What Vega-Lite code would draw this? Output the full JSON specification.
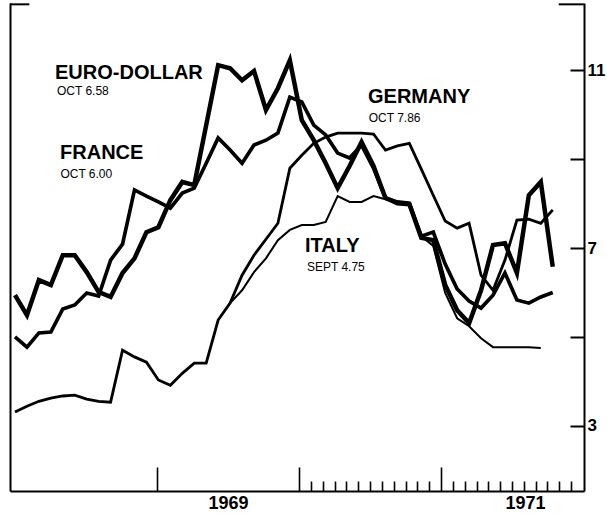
{
  "$schema": "https://vega.github.io/schema/vega-lite/v6.json",
  "width": 574,
  "height": 488,
  "autosize": {"type": "none"},
  "padding": {"left": 10, "top": 3, "right": 23, "bottom": 27},
  "background": "white",
  "config": {"view": {"stroke": null}, "font": "Liberation Sans"},
  "datasets": {
    "rates": [
      {"s":"Germany","m":0,"v":3.31},{"s":"Germany","m":1,"v":3.44},{"s":"Germany","m":2,"v":3.55},{"s":"Germany","m":3,"v":3.62},{"s":"Germany","m":4,"v":3.67},{"s":"Germany","m":5,"v":3.69},{"s":"Germany","m":6,"v":3.60},{"s":"Germany","m":7,"v":3.55},{"s":"Germany","m":8,"v":3.53},{"s":"Germany","m":9,"v":4.70},{"s":"Germany","m":10,"v":4.55},{"s":"Germany","m":11,"v":4.43},{"s":"Germany","m":12,"v":4.03},{"s":"Germany","m":13,"v":3.91},{"s":"Germany","m":14,"v":4.18},{"s":"Germany","m":15,"v":4.41},{"s":"Germany","m":16,"v":4.41},{"s":"Germany","m":17,"v":5.38},{"s":"Germany","m":18,"v":5.76},{"s":"Germany","m":19,"v":6.39},{"s":"Germany","m":20,"v":6.84},{"s":"Germany","m":21,"v":7.20},{"s":"Germany","m":22,"v":7.56},{"s":"Germany","m":23,"v":8.80},{"s":"Germany","m":24,"v":9.09},{"s":"Germany","m":25,"v":9.36},{"s":"Germany","m":26,"v":9.50},{"s":"Germany","m":27,"v":9.59},{"s":"Germany","m":28,"v":9.59},{"s":"Germany","m":29,"v":9.59},{"s":"Germany","m":30,"v":9.57},{"s":"Germany","m":31,"v":9.21},{"s":"Germany","m":32,"v":9.30},{"s":"Germany","m":33,"v":9.36},{"s":"Germany","m":34,"v":8.78},{"s":"Germany","m":35,"v":8.19},{"s":"Germany","m":36,"v":7.61},{"s":"Germany","m":37,"v":7.45},{"s":"Germany","m":38,"v":7.56},{"s":"Germany","m":39,"v":6.39},{"s":"Germany","m":40,"v":6.05},{"s":"Germany","m":41,"v":6.73},{"s":"Germany","m":42,"v":7.63},{"s":"Germany","m":43,"v":7.65},{"s":"Germany","m":44,"v":7.56},{"s":"Germany","m":45,"v":7.86},
      {"s":"Italy","m":18,"v":5.76},{"s":"Italy","m":19,"v":6.05},{"s":"Italy","m":20,"v":6.46},{"s":"Italy","m":21,"v":6.77},{"s":"Italy","m":22,"v":7.18},{"s":"Italy","m":23,"v":7.41},{"s":"Italy","m":24,"v":7.52},{"s":"Italy","m":25,"v":7.52},{"s":"Italy","m":26,"v":7.59},{"s":"Italy","m":27,"v":8.17},{"s":"Italy","m":28,"v":8.04},{"s":"Italy","m":29,"v":8.04},{"s":"Italy","m":30,"v":8.17},{"s":"Italy","m":31,"v":8.10},{"s":"Italy","m":32,"v":8.01},{"s":"Italy","m":33,"v":7.99},{"s":"Italy","m":34,"v":7.27},{"s":"Italy","m":35,"v":7.05},{"s":"Italy","m":36,"v":5.99},{"s":"Italy","m":37,"v":5.42},{"s":"Italy","m":38,"v":5.24},{"s":"Italy","m":39,"v":4.97},{"s":"Italy","m":40,"v":4.77},{"s":"Italy","m":41,"v":4.77},{"s":"Italy","m":42,"v":4.77},{"s":"Italy","m":43,"v":4.77},{"s":"Italy","m":44,"v":4.75},
      {"s":"France","m":0,"v":5.00},{"s":"France","m":1,"v":4.77},{"s":"France","m":2,"v":5.09},{"s":"France","m":3,"v":5.11},{"s":"France","m":4,"v":5.63},{"s":"France","m":5,"v":5.72},{"s":"France","m":6,"v":5.99},{"s":"France","m":7,"v":5.92},{"s":"France","m":8,"v":6.73},{"s":"France","m":9,"v":7.09},{"s":"France","m":10,"v":8.31},{"s":"France","m":11,"v":8.17},{"s":"France","m":12,"v":8.04},{"s":"France","m":13,"v":7.90},{"s":"France","m":14,"v":8.24},{"s":"France","m":15,"v":8.35},{"s":"France","m":16,"v":8.91},{"s":"France","m":17,"v":9.48},{"s":"France","m":18,"v":9.21},{"s":"France","m":19,"v":8.91},{"s":"France","m":20,"v":9.32},{"s":"France","m":21,"v":9.43},{"s":"France","m":22,"v":9.59},{"s":"France","m":23,"v":10.40},{"s":"France","m":24,"v":10.29},{"s":"France","m":25,"v":9.77},{"s":"France","m":26,"v":9.55},{"s":"France","m":27,"v":9.14},{"s":"France","m":28,"v":9.03},{"s":"France","m":29,"v":9.32},{"s":"France","m":30,"v":8.80},{"s":"France","m":31,"v":8.13},{"s":"France","m":32,"v":8.04},{"s":"France","m":33,"v":8.01},{"s":"France","m":34,"v":7.27},{"s":"France","m":35,"v":7.36},{"s":"France","m":36,"v":6.64},{"s":"France","m":37,"v":6.08},{"s":"France","m":38,"v":5.81},{"s":"France","m":39,"v":5.65},{"s":"France","m":40,"v":5.94},{"s":"France","m":41,"v":6.44},{"s":"France","m":42,"v":5.83},{"s":"France","m":43,"v":5.76},{"s":"France","m":44,"v":5.90},{"s":"France","m":45,"v":6.00},
      {"s":"Euro-dollar","m":0,"v":5.94},{"s":"Euro-dollar","m":1,"v":5.49},{"s":"Euro-dollar","m":2,"v":6.28},{"s":"Euro-dollar","m":3,"v":6.17},{"s":"Euro-dollar","m":4,"v":6.84},{"s":"Euro-dollar","m":5,"v":6.84},{"s":"Euro-dollar","m":6,"v":6.46},{"s":"Euro-dollar","m":7,"v":6.01},{"s":"Euro-dollar","m":8,"v":5.90},{"s":"Euro-dollar","m":9,"v":6.44},{"s":"Euro-dollar","m":10,"v":6.77},{"s":"Euro-dollar","m":11,"v":7.36},{"s":"Euro-dollar","m":12,"v":7.47},{"s":"Euro-dollar","m":13,"v":8.08},{"s":"Euro-dollar","m":14,"v":8.49},{"s":"Euro-dollar","m":15,"v":8.42},{"s":"Euro-dollar","m":16,"v":9.77},{"s":"Euro-dollar","m":17,"v":11.12},{"s":"Euro-dollar","m":18,"v":11.05},{"s":"Euro-dollar","m":19,"v":10.78},{"s":"Euro-dollar","m":20,"v":10.99},{"s":"Euro-dollar","m":21,"v":10.11},{"s":"Euro-dollar","m":22,"v":10.60},{"s":"Euro-dollar","m":23,"v":11.23},{"s":"Euro-dollar","m":24,"v":9.88},{"s":"Euro-dollar","m":25,"v":9.43},{"s":"Euro-dollar","m":26,"v":8.91},{"s":"Euro-dollar","m":27,"v":8.35},{"s":"Euro-dollar","m":28,"v":8.85},{"s":"Euro-dollar","m":29,"v":9.39},{"s":"Euro-dollar","m":30,"v":8.85},{"s":"Euro-dollar","m":31,"v":8.13},{"s":"Euro-dollar","m":32,"v":8.01},{"s":"Euro-dollar","m":33,"v":7.99},{"s":"Euro-dollar","m":34,"v":7.23},{"s":"Euro-dollar","m":35,"v":7.18},{"s":"Euro-dollar","m":36,"v":6.17},{"s":"Euro-dollar","m":37,"v":5.60},{"s":"Euro-dollar","m":38,"v":5.31},{"s":"Euro-dollar","m":39,"v":6.05},{"s":"Euro-dollar","m":40,"v":7.07},{"s":"Euro-dollar","m":41,"v":7.11},{"s":"Euro-dollar","m":42,"v":6.44},{"s":"Euro-dollar","m":43,"v":8.19},{"s":"Euro-dollar","m":44,"v":8.49},{"s":"Euro-dollar","m":45,"v":6.58}
    ],
    "titles": [
      {"x":3.35,"y":10.94,"text":"EURO-DOLLAR"},
      {"x":29.54,"y":10.40,"text":"GERMANY"},
      {"x":3.77,"y":9.14,"text":"FRANCE"},
      {"x":24.27,"y":7.05,"text":"ITALY"}
    ],
    "subs": [
      {"x":3.51,"y":10.54,"text":"OCT  6.58"},
      {"x":29.6,"y":9.93,"text":"OCT  7.86"},
      {"x":3.8,"y":8.67,"text":"OCT  6.00"},
      {"x":24.43,"y":6.57,"text":"SEPT  4.75"}
    ],
    "frame": [
      {"x0":-0.42,"x1":1.2,"y":12.49},
      {"x0":45.5,"x1":47.6,"y":12.49}
    ]
  },
  "resolve": {"axis": {"x": "independent", "y": "independent"}},
  "layer": [
    {
      "data": {"name": "rates"},
      "mark": {"type": "line", "color": "black", "strokeJoin": "miter", "strokeCap": "butt"},
      "encoding": {
        "x": {
          "field": "m", "type": "quantitative",
          "scale": {"domain": [-0.418, 47.615], "nice": false, "zero": false},
          "axis": {
            "orient": "bottom", "title": null, "grid": false,
            "values": [11.88, 17.82, 23.77, 24.76, 25.75, 26.74, 27.73, 28.72, 29.71, 30.70, 31.69, 32.68, 33.67, 34.66, 35.65, 36.64, 37.63, 38.62, 39.61, 40.60, 41.59, 42.58, 42.68, 43.57, 44.56, 45.55, 46.54],
            "tickSize": {"condition": [{"test": "datum.value == 17.82 || datum.value == 42.68", "value": 0}, {"test": "datum.value == 11.88 || datum.value == 23.77 || datum.value == 35.65", "value": -24}], "value": -10},
            "tickWidth": 1.6, "tickColor": "black",
            "domainColor": "black", "domainWidth": 2,
            "labelExpr": "datum.value == 17.82 ? '1969' : (datum.value == 42.68 ? '1971' : '')",
            "labelFont": "Liberation Sans", "labelFontWeight": "bold", "labelFontSize": 18, "labelColor": "black",
            "labelPadding": 3, "labelAngle": 0, "labelOverlap": false, "labelBound": false, "labelFlush": false
          }
        },
        "y": {
          "field": "v", "type": "quantitative",
          "scale": {"domain": [1.53, 12.52], "nice": false, "zero": false},
          "axis": {
            "orient": "right", "title": null, "grid": false,
            "values": [3, 5, 7, 9, 11],
            "tickSize": -14, "tickWidth": 2, "tickColor": "black",
            "domainColor": "black", "domainWidth": 2,
            "labelExpr": "datum.value == 3 || datum.value == 7 || datum.value == 11 ? datum.label : ''",
            "labelFont": "Liberation Sans", "labelFontWeight": "bold", "labelFontSize": 17, "labelColor": "black",
            "labelPadding": 17, "labelOverlap": false, "labelBound": false, "labelFlush": false
          }
        },
        "detail": {"field": "s", "type": "nominal"},
        "strokeWidth": {"field": "s", "type": "nominal", "scale": {"domain": ["Euro-dollar", "France", "Germany", "Italy"], "range": [4.5, 2, 1.3, 1.3]}, "legend": null}
      }
    },
    {
      "data": {"name": "frame"},
      "mark": {"type": "rule", "color": "black", "strokeWidth": 2},
      "encoding": {
        "x": {"field": "x0", "type": "quantitative", "scale": {"domain": [-0.418, 47.615], "nice": false, "zero": false}, "axis": null},
        "x2": {"field": "x1"},
        "y": {"field": "y", "type": "quantitative", "scale": {"domain": [1.53, 12.52], "nice": false, "zero": false},
          "axis": {"orient": "left", "title": null, "grid": false, "ticks": false, "labels": false, "domain": true, "domainColor": "black", "domainWidth": 2}}
      }
    },
    {
      "data": {"name": "titles"},
      "mark": {"type": "text", "align": "left", "baseline": "middle", "font": "Liberation Sans", "fontWeight": "bold", "fontSize": 20, "color": "black"},
      "encoding": {
        "x": {"field": "x", "type": "quantitative", "scale": {"domain": [-0.418, 47.615], "nice": false, "zero": false}, "axis": null},
        "y": {"field": "y", "type": "quantitative", "scale": {"domain": [1.53, 12.52], "nice": false, "zero": false}, "axis": null},
        "text": {"field": "text"}
      }
    },
    {
      "data": {"name": "subs"},
      "mark": {"type": "text", "align": "left", "baseline": "middle", "font": "Liberation Sans", "fontSize": 12, "color": "black"},
      "encoding": {
        "x": {"field": "x", "type": "quantitative", "scale": {"domain": [-0.418, 47.615], "nice": false, "zero": false}, "axis": null},
        "y": {"field": "y", "type": "quantitative", "scale": {"domain": [1.53, 12.52], "nice": false, "zero": false}, "axis": null},
        "text": {"field": "text"}
      }
    }
  ]
}
